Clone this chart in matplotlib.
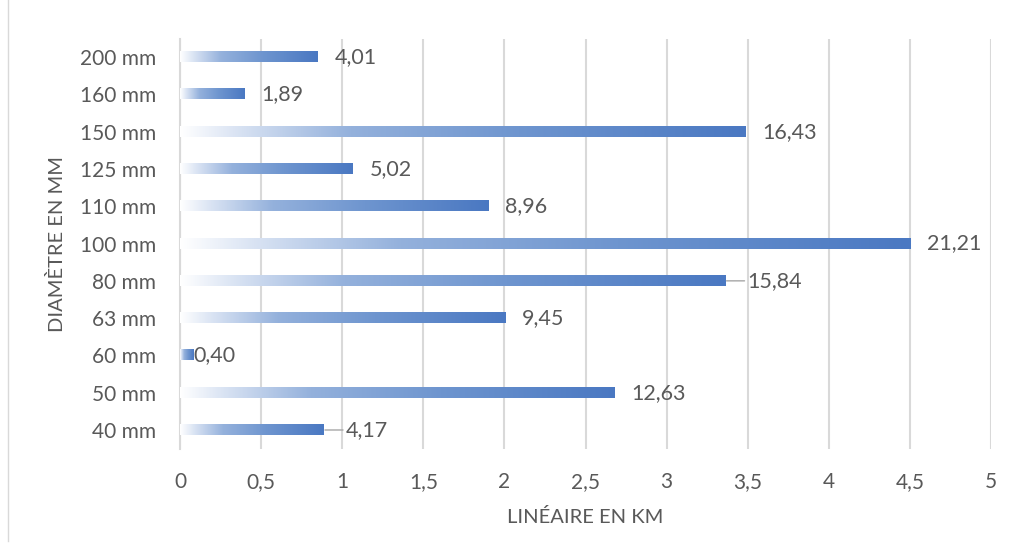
import numpy as np
import matplotlib
matplotlib.use("Agg")
import matplotlib.pyplot as plt
from matplotlib.colors import LinearSegmentedColormap
from matplotlib.lines import Line2D

plt.rcParams['font.family'] = ['Lato', 'DejaVu Sans']

categories = ['40 mm', '50 mm', '60 mm', '63 mm', '80 mm', '100 mm',
              '110 mm', '125 mm', '150 mm', '160 mm', '200 mm']
lengths_km = [0.885, 2.68, 0.085, 2.005, 3.36, 4.50, 1.90, 1.065, 3.485, 0.40, 0.85]
labels = ['4,17', '12,63', '0,40', '9,45', '15,84', '21,21',
          '8,96', '5,02', '16,43', '1,89', '4,01']
x_ticks = [0, 0.5, 1, 1.5, 2, 2.5, 3, 3.5, 4, 4.5, 5]
x_ticklabels = ['0', '0,5', '1', '1,5', '2', '2,5', '3', '3,5', '4', '4,5', '5']
leader = ['40 mm', '80 mm']

text_col = '#595959'
grad = LinearSegmentedColormap.from_list(
    'bar', [(0, '#ffffff'), (0.1, '#d9e3f3'), (0.3, '#94b1dc'), (0.6, '#6e95cf'), (1, '#4a78c2')])

fig = plt.figure(figsize=(10.14, 5.58), dpi=100)
ax = fig.add_axes([0.1775, 0.196, 0.8, 0.735])

h = 0.27
g = np.linspace(0, 1, 256).reshape(1, -1)
for i, (cat, v, lab) in enumerate(zip(categories, lengths_km, labels)):
    ax.imshow(g, cmap=grad, extent=[0, v, i - h / 2, i + h / 2],
              aspect='auto', origin='lower', zorder=3, interpolation='bilinear')
    if cat in leader:
        ax.annotate(lab, xy=(v, i), xytext=(16, 0), textcoords='offset points',
                    va='center', ha='left', fontsize=15.5, color=text_col,
                    arrowprops=dict(arrowstyle='-', color='#a6a6a6', lw=1,
                                    shrinkA=0, shrinkB=1))
    else:
        ax.annotate(lab, xy=(v, i), xytext=(12, 0) if v > 0.2 else (0, 0),
                    textcoords='offset points', va='center', ha='left',
                    fontsize=15.5, color=text_col)

ax.set_xlim(0, 5)
ax.set_ylim(-0.5, len(categories) - 0.5)
ax.set_yticks(range(len(categories)))
ax.set_yticklabels(categories)
ax.set_xticks(x_ticks)
ax.set_xticklabels(x_ticklabels)
ax.tick_params(axis='both', length=0, labelsize=15, colors=text_col)
ax.tick_params(axis='y', pad=17)
ax.tick_params(axis='x', pad=17)
ax.grid(axis='x', color='#d9d9d9', linewidth=1.5, zorder=0)
ax.set_axisbelow(True)
for s in ['top', 'right', 'bottom']:
    ax.spines[s].set_visible(False)
ax.spines['left'].set_color('#d9d9d9')
ax.spines['left'].set_linewidth(1.5)

ax.set_xlabel('LINÉAIRE EN KM', fontsize=14.5, color=text_col, labelpad=11)
ax.set_ylabel('DIAMÈTRE EN MM', fontsize=14.5, color=text_col, labelpad=10)

fig.add_artist(Line2D([0.008, 0.008], [0.03, 1.0], color='#d9d9d9', lw=1,
                      transform=fig.transFigure))

fig.savefig('out.png', dpi=100, facecolor='white')
